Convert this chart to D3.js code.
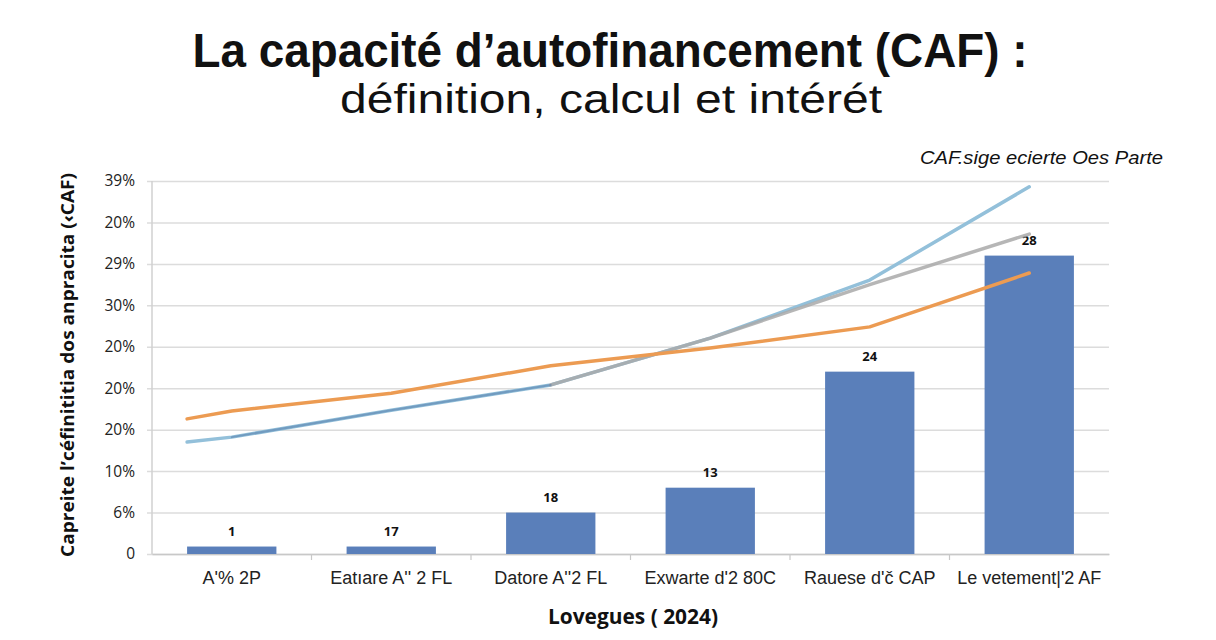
<!DOCTYPE html>
<html>
<head>
<meta charset="utf-8">
<script src="https://cdn.jsdelivr.net/npm/d3@7"></script>
<style>
html,body{margin:0;padding:0;background:#fff;}
svg{display:block;}
</style>
</head>
<body>
<script>
// ---- data ----
const categories = ["A'% 2P", "Eatıare A'' 2 FL", "Datore A''2 FL", "Exwarte d'2 80C", "Rauese d'č CAP", "Le vetement|'2 AF"];
const barValues = [0.18, 0.18, 1.0, 1.6, 4.4, 7.2];
const barLabels = ["1", "17", "18", "13", "24", "28"];
const yTickValues = [0, 1, 2, 3, 4, 5, 6, 7, 8, 9];
const yTickLabels = ["0", "6%", "10%", "20%", "20%", "20%", "30%", "29%", "20%", "39%"];
const lineIndexAll = [-0.28, 0, 1, 2, 3, 4, 5];
const orangeValues = [3.26, 3.45, 3.88, 4.54, 4.97, 5.48, 6.78];
const lightBlueValues = [2.70, 2.82, 3.47, 4.08, 5.21, 6.61, 8.86];
const grayIndex = [2, 3, 4, 5];
const grayValues = [4.08, 5.21, 6.5, 7.72];
const darkBlueIndex = [0, 1, 2];
const darkBlueValues = [2.82, 3.47, 4.08];
const titleText = "La capacité d’autofinancement (CAF) :";
const subtitleText = "définition, calcul et intérét";
const legendText = "CAF.sige ecierte Oes Parte";
const yAxisTitle = "Capreite l’céfinititia dos anpracita (‹CAF)";
const xAxisTitle = "Lovegues ( 2024)";

// ---- chart ----
const W = 1216, H = 640;
const svg = d3.select("body").append("svg").attr("width", W).attr("height", H);
const pL = 152, pR = 1109, pT = 181, pB = 554;
const narrow = "'Liberation Sans Narrow', 'Liberation Sans', Arial, sans-serif";

const x = d3.scaleBand().domain(categories).range([pL, pR]).paddingInner(0.44).paddingOuter(0.22);
const y = d3.scaleLinear().domain([0, 9]).range([pB, pT]);
const xi = d3.scaleLinear().domain([0, 5])
  .range([x(categories[0]) + x.bandwidth() / 2, x(categories[5]) + x.bandwidth() / 2]);

// titles
svg.append("text").attr("x", 610).attr("y", 67).attr("text-anchor", "middle")
  .attr("font-family", narrow).attr("font-weight", "bold").attr("font-size", 48)
  .attr("textLength", 835).attr("lengthAdjust", "spacingAndGlyphs").attr("fill", "#111")
  .text(titleText);
svg.append("text").attr("x", 611).attr("y", 113).attr("text-anchor", "middle")
  .attr("font-family", narrow).attr("font-size", 40)
  .attr("textLength", 542).attr("lengthAdjust", "spacingAndGlyphs").attr("fill", "#111")
  .text(subtitleText);
svg.append("text").attr("x", 1163).attr("y", 164).attr("text-anchor", "end")
  .attr("font-family", "'Liberation Sans', Arial, sans-serif").attr("font-style", "italic").attr("font-size", 19)
  .attr("textLength", 243).attr("lengthAdjust", "spacingAndGlyphs").attr("fill", "#111")
  .text(legendText);

// gridlines + y axis
const yAxis = d3.axisLeft(y).tickValues(yTickValues).tickSize(-(pR - pL + 5)).tickPadding(12)
  .tickFormat((d, i) => yTickLabels[i]);
const gy = svg.append("g").attr("transform", `translate(${pL - 5},0)`).call(yAxis);
gy.select(".domain").remove();
gy.selectAll(".tick line").attr("stroke", "#dcdcdc").attr("stroke-width", 1.5);
gy.selectAll(".tick text").attr("font-family", "'Open Sans', sans-serif").attr("font-size", 15.5).attr("fill", "#222");
svg.append("line").attr("x1", pL).attr("x2", pL).attr("y1", pT).attr("y2", pB)
  .attr("stroke", "#d0d0d0").attr("stroke-width", 1.5);

// x axis
const xAxis = d3.axisBottom(x).tickSize(0).tickPadding(17);
const gx = svg.append("g").attr("transform", `translate(0,${pB})`).call(xAxis);
gx.select(".domain").attr("stroke", "#c8c8c8").attr("stroke-width", 1.5);
gx.selectAll(".tick text").attr("font-family", narrow)
  .attr("font-size", 18).attr("fill", "#222");
// category separators
svg.append("g").selectAll("line").data(categories.slice(1)).join("line")
  .attr("x1", d => x(d) - x.step() * x.paddingInner() / 2).attr("x2", d => x(d) - x.step() * x.paddingInner() / 2)
  .attr("y1", pB).attr("y2", pB + 6).attr("stroke", "#c8c8c8").attr("stroke-width", 1.2);

// bars
svg.append("g").selectAll("rect").data(barValues).join("rect")
  .attr("x", (d, i) => x(categories[i])).attr("width", x.bandwidth())
  .attr("y", d => y(d)).attr("height", d => y(0) - y(d)).attr("fill", "#5a7fba");
svg.append("g").selectAll("text").data(barValues).join("text")
  .attr("x", (d, i) => x(categories[i]) + x.bandwidth() / 2).attr("y", d => y(d) - 11)
  .attr("text-anchor", "middle").attr("font-family", "'Open Sans', sans-serif")
  .attr("font-weight", "bold").attr("font-size", 13).attr("fill", "#111")
  .text((d, i) => barLabels[i]);

// lines
const mkLine = d3.line().x(d => xi(d[0])).y(d => y(d[1]));
function drawLine(idx, vals, color, width, op) {
  svg.append("path").datum(idx.map((v, i) => [v, vals[i]]))
    .attr("d", mkLine).attr("fill", "none").attr("stroke", color)
    .attr("stroke-width", width).attr("stroke-linecap", "round").attr("stroke-linejoin", "round")
    .attr("opacity", op);
}
drawLine(lineIndexAll, lightBlueValues, "#93c0da", 3.5, 1);
drawLine(grayIndex, grayValues, "#a9a9a9", 3.5, 0.85);
drawLine(darkBlueIndex, darkBlueValues, "#4f76a6", 2, 0.5);
drawLine(lineIndexAll, orangeValues, "#ec9b52", 3.5, 1);

// axis titles
svg.append("text").attr("transform", `translate(74,365) rotate(-90)`).attr("text-anchor", "middle")
  .attr("font-family", "'Open Sans', sans-serif").attr("font-weight", "bold").attr("font-size", 18)
  .attr("textLength", 384).attr("lengthAdjust", "spacingAndGlyphs").attr("fill", "#111")
  .text(yAxisTitle);
svg.append("text").attr("x", 633).attr("y", 624).attr("text-anchor", "middle")
  .attr("font-family", "'Open Sans', sans-serif").attr("font-weight", "bold").attr("font-size", 21)
  .attr("textLength", 170).attr("lengthAdjust", "spacingAndGlyphs").attr("fill", "#111")
  .text(xAxisTitle);
</script>
</body>
</html>
